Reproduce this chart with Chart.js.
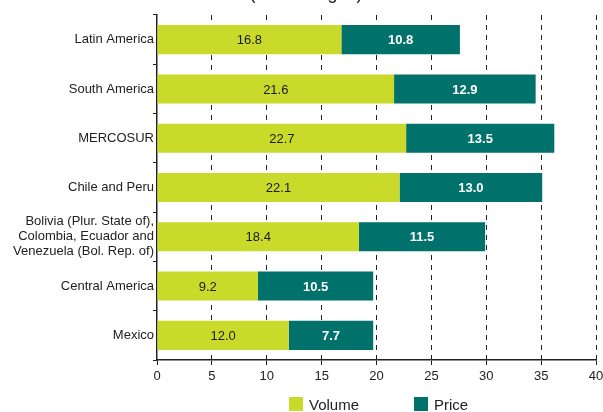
<!DOCTYPE html>
<html>
<head>
<meta charset="utf-8">
<script src="https://cdn.jsdelivr.net/npm/chart.js@4.4.1/dist/chart.umd.min.js"></script>
<style>
  html, body { margin: 0; padding: 0; background: #fff; }
  #wrap { position: relative; width: 603px; height: 412px; overflow: hidden; }
  #legend {
    position: absolute; top: 396px; left: 289px;
    font-family: "Liberation Sans", Arial, sans-serif; font-size: 15px; color: #222;
  }
  #legend span.item { position: absolute; white-space: nowrap; }
  #legend span.box { display: inline-block; width: 14px; height: 14px; vertical-align: -1px; margin-right: 6px; }
</style>
</head>
<body>
<div id="wrap">
  <canvas id="chart" width="603" height="412"></canvas>
  <div id="legend"></div>
</div>
<script>
const categories = [
  "Latin America",
  "South America",
  "MERCOSUR",
  "Chile and Peru",
  ["Bolivia (Plur. State of),", "Colombia, Ecuador and", "Venezuela (Bol. Rep. of)"],
  "Central America",
  "Mexico"
];
const volume = [16.8, 21.6, 22.7, 22.1, 18.4, 9.2, 12.0];
const price = [10.8, 12.9, 13.5, 13.0, 11.5, 10.5, 7.7];
const xTicks = [0, 5, 10, 15, 20, 25, 30, 35, 40];

const LIME = "#c9da2b";
const TEAL = "#00716b";
const FONT = "'Liberation Sans', Arial, sans-serif";

// value labels inside each bar segment, plus the clipped subtitle at the top
const barLabels = {
  id: "barLabels",
  afterDatasetsDraw(chart) {
    const ctx = chart.ctx;
    ctx.save();
    ctx.textAlign = "center";
    ctx.textBaseline = "middle";
    chart.data.datasets.forEach((ds, i) => {
      const meta = chart.getDatasetMeta(i);
      meta.data.forEach((bar, j) => {
        const cx = (bar.x + bar.base) / 2;
        if (i === 0) {
          ctx.font = "13px " + FONT;
          ctx.fillStyle = "#1a1a1a";
        } else {
          ctx.font = "bold 13px " + FONT;
          ctx.fillStyle = "#ffffff";
        }
        ctx.fillText(ds.data[j].toFixed(1), cx, bar.y + 1);
      });
    });
    ctx.font = "18px " + FONT;
    ctx.fillStyle = "#222";
    ctx.textBaseline = "alphabetic";
    ctx.fillText("(Percentages)", 306, -1);
    ctx.restore();
  }
};

const chart = new Chart(document.getElementById("chart"), {
  type: "bar",
  data: {
    labels: categories,
    datasets: [
      { label: "Volume", data: volume, backgroundColor: LIME },
      { label: "Price", data: price, backgroundColor: TEAL }
    ]
  },
  options: {
    indexAxis: "y",
    responsive: false,
    animation: false,
    layout: { padding: { top: 15, right: 0, bottom: 0, left: 0 } },
    datasets: { bar: { barPercentage: 0.59, categoryPercentage: 1 } },
    plugins: {
      legend: { display: false },
      tooltip: { enabled: false }
    },
    scales: {
      x: {
        stacked: true,
        min: 0,
        max: 40,
        afterBuildTicks: (axis) => { axis.ticks = xTicks.map((v) => ({ value: v })); },
        afterFit: (axis) => {
          axis.height = 52;
          axis.paddingRight = 7;
        },
        border: { display: true, color: "#222", width: 1.5, dash: [5, 5] },
        grid: {
          color: (c) => (c.tick && c.tick.value === 0 ? "rgba(0,0,0,0)" : "#222"),
          lineWidth: 1,
          drawTicks: true,
          tickLength: 5,
          tickColor: "#222",
          tickBorderDash: []
        },
        ticks: {
          color: "#222",
          font: { family: FONT, size: 13 },
          padding: 4,
          maxRotation: 0
        }
      },
      y: {
        stacked: true,
        afterFit: (axis) => { axis.width = 157; },
        border: { display: true, color: "#222", width: 1.5 },
        grid: {
          offset: true,
          drawOnChartArea: false,
          drawTicks: true,
          tickLength: 4,
          tickColor: "#222"
        },
        ticks: {
          color: "#222",
          font: { family: FONT, size: 13, lineHeight: 1.15 },
          padding: -1
        }
      }
    }
  },
  plugins: [barLabels]
});

// legend built from the datasets
const legend = document.getElementById("legend");
const legendOffsets = [0, 125];
chart.data.datasets.forEach((ds, i) => {
  const item = document.createElement("span");
  item.className = "item";
  item.style.left = legendOffsets[i] + "px";
  item.innerHTML = '<span class="box" style="background:' + ds.backgroundColor + '"></span>' + ds.label;
  legend.appendChild(item);
});
</script>
</body>
</html>
